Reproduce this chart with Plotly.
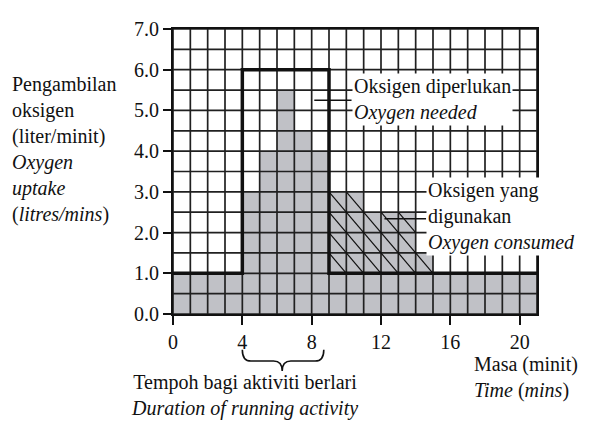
import plotly.graph_objects as go

# ---- data ----
minute_start = list(range(21))                     # each bar spans [t, t+1]
oxygen_consumed = [1.0, 1.0, 1.0, 1.0, 3.0, 4.0, 5.5, 4.5, 4.0, 3.0, 3.0,
                   2.5, 2.5, 2.5, 1.5, 1.0, 1.0, 1.0, 1.0, 1.0, 1.0]
oxygen_needed = [1.0, 1.0, 1.0, 1.0, 6.0, 6.0, 6.0, 6.0, 6.0, 1.0, 1.0,
                 1.0, 1.0, 1.0, 1.0, 1.0, 1.0, 1.0, 1.0, 1.0, 1.0]
resting_level = 1.0
recovery_start = 9          # hatched (oxygen debt repayment) region starts here
x_tick_vals = [0, 4, 8, 12, 16, 20]
y_tick_vals = [0, 1, 2, 3, 4, 5, 6, 7]
x_max, y_max = 21, 7.0

FONT = "Liberation Serif"
FS = 20
GRAY = "#c0c1c6"

# page pixel -> paper helpers (plot area spans x 173..537, y 18..314 on page)
def px(x):
    return (x - 173) / 364.0

def py(y):
    return (314 - y) / 296.0

fig = go.Figure()

# consumed bars
fig.add_trace(go.Bar(
    x=[t + 0.5 for t in minute_start], y=oxygen_consumed, width=1.0,
    marker=dict(color=GRAY, line=dict(width=0)), hoverinfo="skip",
    showlegend=False))

# grid drawn above the bars
gx, gy = [], []
for i in range(x_max + 1):
    gx += [i, i, None]
    gy += [0, y_max, None]
k = 0
while k * 0.5 <= y_max:
    gx += [0, x_max, None]
    gy += [k * 0.5, k * 0.5, None]
    k += 1
fig.add_trace(go.Scatter(x=gx, y=gy, mode="lines",
                         line=dict(color="#202020", width=1.7),
                         hoverinfo="skip", showlegend=False))

# hatch lines over the excess consumption after the run
hx, hy = [], []
for end in range(recovery_start + 1, x_max + 1):
    seg_x, seg_y = [], []
    for i in range(recovery_start, x_max):
        top = oxygen_consumed[i]
        if top <= resting_level:
            continue
        xs = max(i, end - 2 * (top - resting_level))
        xe = min(i + 1, end)
        if xs < xe:
            for xv in (xs, xe):
                seg_x.append(xv)
                seg_y.append(resting_level + 0.5 * (end - xv))
    if seg_x:
        hx += seg_x + [None]
        hy += seg_y + [None]
fig.add_trace(go.Scatter(x=hx, y=hy, mode="lines",
                         line=dict(color="#111111", width=1.2),
                         hoverinfo="skip", showlegend=False))

# oxygen needed step line
fig.add_trace(go.Scatter(
    x=minute_start + [x_max], y=oxygen_needed + [oxygen_needed[-1]],
    mode="lines", line=dict(color="#111111", width=3.5, shape="hv"),
    hoverinfo="skip", showlegend=False))

axis_common = dict(showgrid=False, zeroline=False, showline=True, mirror=True,
                   linecolor="#111111", linewidth=2, ticks="outside",
                   tickcolor="#111111", tickwidth=2, layer="above traces",
                   tickfont=dict(family=FONT, size=FS, color="#111111"))

fig.update_xaxes(range=[0, x_max], tickvals=x_tick_vals, ticklen=9,
                 **axis_common)
fig.update_yaxes(range=[0, y_max], tickvals=y_tick_vals, tickformat=".1f",
                 ticklen=8, **axis_common)

# leader lines
fig.add_shape(type="line", x0=8.15, x1=10.3, y0=5.25, y1=5.25,
              line=dict(color="#111111", width=1.5), layer="above")
fig.add_shape(type="line", x0=12.2, x1=14.6, y0=2.34, y1=2.34,
              line=dict(color="#111111", width=1.5), layer="above")

# brace under the running period
fig.add_shape(type="path", xref="x", yref="paper",
              path="M 4,-0.125 Q 4,-0.165 4.5,-0.165 L 5.8,-0.165 "
                   "Q 6.3,-0.165 6.3,-0.2 Q 6.3,-0.165 6.8,-0.165 "
                   "L 8.2,-0.165 Q 8.7,-0.165 8.7,-0.125",
              line=dict(color="#111111", width=1.6))

ann_font = dict(family=FONT, size=FS, color="#111111")
fig.add_annotation(x=10.3, y=5.27, xref="x", yref="y", xanchor="left",
                   yanchor="middle", align="left", showarrow=False,
                   text="Oksigen diperlukan<br><i>Oxygen needed</i>",
                   bgcolor="white", font=ann_font, borderpad=1)
fig.add_annotation(x=14.6, y=2.4, xref="x", yref="y", xanchor="left",
                   yanchor="middle", align="left", showarrow=False,
                   text="Oksigen yang<br>digunakan<br><i>Oxygen consumed</i>",
                   bgcolor="white", font=ann_font, borderpad=1)
# y-axis title
fig.add_annotation(x=px(10), y=py(143), xref="paper", yref="paper",
                   xanchor="left", yanchor="middle", align="left",
                   showarrow=False, font=ann_font,
                   text="Pengambilan<br>oksigen<br>(liter/minit)<br>"
                        "<i>Oxygen</i><br><i>uptake</i><br>"
                        "(<i>litres/mins</i>)")
# x-axis title
fig.add_annotation(x=px(473), y=py(380), xref="paper", yref="paper",
                   xanchor="left", yanchor="middle", align="left",
                   showarrow=False, font=ann_font, borderpad=0,
                   text="Masa (minit)<br><i>Time</i> (<i>mins</i>)")
# brace label
fig.add_annotation(x=px(244), y=py(399), xref="paper", yref="paper",
                   xanchor="center", yanchor="middle", align="center",
                   showarrow=False, font=ann_font,
                   text="Tempoh bagi aktiviti berlari<br>"
                        "<i>Duration of running activity</i>")

# the page adds an 8px body margin, so the figure is 8px smaller each way
fig.update_layout(width=582, height=418, autosize=False,
                  margin=dict(l=165, r=53, t=10, b=112),
                  plot_bgcolor="white", paper_bgcolor="white",
                  bargap=0, showlegend=False,
                  font=dict(family=FONT, size=FS, color="#111111"))

fig.write_html("out.html")
